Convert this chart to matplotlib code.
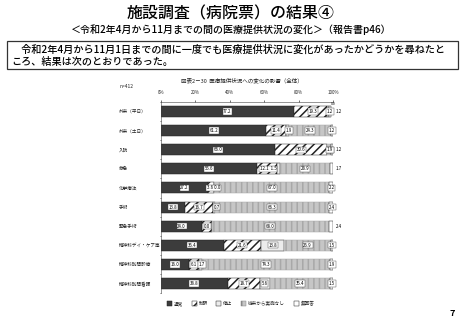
import matplotlib
matplotlib.use("Agg")
import matplotlib.pyplot as plt
import matplotlib.transforms as mtransforms
from matplotlib.patches import Rectangle
import numpy as np

plt.rcParams['font.family'] = ['Noto Sans CJK JP', 'DejaVu Sans']
plt.rcParams['hatch.linewidth'] = 1.1

categories = ["外来（平日）", "外来（土日）", "入院", "救急", "化学療法", "手術",
              "緊急手術", "精神科デイ・ケア等", "精神科訪問診療", "精神科訪問看護"]
series_names = ["通常", "制限", "停止", "従来から実施なし", "無回答"]
normal   = [77.2, 61.2, 66.0, 55.6, 27.2, 13.8, 24.0, 36.4, 16.0, 38.8]
limited  = [19.3, 11.4, 30.6, 12.1, 3.6, 16.7, 5.6, 21.6, 6.1, 18.7]
stopped  = [1.2, 1.9, 0.2, 1.5, 0.0, 0.7, 0.0, 13.8, 1.7, 5.6]
notdone  = [0.0, 24.3, 1.9, 28.9, 67.0, 66.3, 68.0, 26.9, 74.3, 35.4]
noanswer = [1.2, 1.2, 1.2, 1.7, 2.2, 2.4, 2.4, 1.5, 1.9, 1.5]
xticks = [0, 20, 40, 60, 80, 100]
xticklabels = ["0%", "20%", "40%", "60%", "80%", "100%"]

fig = plt.figure(figsize=(4.62, 3.2), dpi=100)

# Header
fig.text(0.5, 1 - 14/320, "施設調査（病院票）の結果④", ha='center', va='center',
         fontsize=11.5, fontweight='medium')
fig.text(0.5, 1 - 30/320, "＜令和2年4月から11月までの間の医療提供状況の変化＞（報告書p46）",
         ha='center', va='center', fontsize=7.2, fontweight='medium')
box = Rectangle((7/462, 1 - 69/320), (458 - 7)/462, 28/320, transform=fig.transFigure,
                fill=False, edgecolor='#333333', linewidth=0.9)
fig.add_artist(box)
fig.text(11/462, 1 - 50/320, "　令和2年4月から11月1日までの間に一度でも医療提供状況に変化があったかどうかを尋ねたと",
         ha='left', va='center', fontsize=7.3, fontweight='medium')
fig.text(11/462, 1 - 62/320, "ころ、結果は次のとおりであった。",
         ha='left', va='center', fontsize=7.3, fontweight='medium')

fig.text(242/462, 1 - 80/320, "図表2－30  医療提供状況への変化の影響（全体）", ha='center', va='center',
         fontsize=4.0, color='#222222')
fig.text(120/462, 1 - 87/320, "n=412", ha='left', va='center', fontsize=3.5, color='#222222')

ax = fig.add_axes([161/462, 1 - 293/320, 172/462, (293 - 102)/320])
n = len(categories)
y = np.arange(n)
data = [normal, limited, stopped, notdone, noanswer]
styles = [
    dict(color='#3c3c3c', hatch=None, edge='#222222'),
    dict(color='white', hatch='////', edge='#222222'),
    dict(color='#ececec', hatch=None, edge='#222222'),
    dict(color='#c6c6c6', hatch='|||', edge='#a8a8a8'),
    dict(color='white', hatch=None, edge='#222222'),
]
left = np.zeros(n)
for vals, st in zip(data, styles):
    v = np.array(vals)
    ax.barh(y, v, left=left, height=0.58, color=st['color'], hatch=st['hatch'],
            edgecolor=st['edge'], linewidth=0.35)
    left = left + v

# value labels
bb = dict(boxstyle='square,pad=0.15', fc='white', ec='#444444', lw=0.3)
fs = 3.2
cum = np.zeros(n)
starts = []
for vals in data:
    starts.append(cum.copy())
    cum = cum + np.array(vals)
noans_outside = [True, False, True, True, False, False, True, False, False, False]
for i in range(n):
    ax.text(starts[0][i] + normal[i] / 2, y[i], f"{normal[i]:.1f}", ha='center', va='center',
            fontsize=fs, bbox=bb)
    if i == 3:
        ax.text(starts[1][i] + limited[i] / 2 + 0.5, y[i], f"{limited[i]:.1f}  {stopped[i]:.1f}",
                ha='center', va='center', fontsize=fs, bbox=bb)
    elif i == 4:
        ax.text(starts[1][i] + limited[i] / 2 + 1.5, y[i], f"{limited[i]:.1f} {stopped[i]:.1f}",
                ha='center', va='center', fontsize=fs, bbox=bb)
    elif i == 6:
        ax.text(starts[1][i] + limited[i] / 2, y[i], f"{stopped[i]:.1f}",
                ha='center', va='center', fontsize=fs, bbox=bb)
    else:
        ax.text(starts[1][i] + limited[i] / 2 + (1.5 if i == 0 else 0), y[i], f"{limited[i]:.1f}",
                ha='center', va='center', fontsize=fs, bbox=bb)
    if i not in (3, 4, 6):
        xs = starts[2][i] + stopped[i] / 2
        if stopped[i] < 3:
            xs = starts[2][i] + 1.8
        ax.text(xs, y[i], f"{stopped[i]:.1f}", ha='center', va='center', fontsize=fs, bbox=bb)
    if i == 0:
        ax.text(100, y[i] - 0.38, f"{notdone[i]:.1f}", ha='center', va='center', fontsize=2.6)
    elif i == 2:
        ax.text(starts[3][i] + 1.5, y[i], f"{notdone[i]:.1f}", ha='center', va='center',
                fontsize=fs, bbox=bb)
    else:
        ax.text(starts[3][i] + notdone[i] / 2, y[i], f"{notdone[i]:.1f}", ha='center', va='center',
                fontsize=fs, bbox=bb)
    if noans_outside[i]:
        ax.text(101.5, y[i], f"{noanswer[i]:.1f}", ha='left', va='center', fontsize=fs)
    else:
        ax.text(99.3, y[i], f"{noanswer[i]:.1f}", ha='center', va='center', fontsize=fs, bbox=bb)

ax.set_xlim(0, 100)
ax.set_ylim(n - 0.5, -0.5)
ax.xaxis.tick_top()
ax.set_xticks(xticks)
ax.set_xticklabels(xticklabels, fontsize=3.2, color='#222222')
ax.tick_params(axis='x', length=1.2, width=0.4, pad=4)
ax.set_yticks(np.arange(n + 1) - 0.5, minor=False)
ax.set_yticklabels([])
ax.tick_params(axis='y', length=1.0, width=0.4, direction='out')
for s in ['right', 'bottom']:
    ax.spines[s].set_visible(False)
for s in ['top', 'left']:
    ax.spines[s].set_linewidth(0.4)
    ax.spines[s].set_color('#444444')

trans = mtransforms.blended_transform_factory(fig.transFigure, ax.transData)
for i, c in enumerate(categories):
    ax.text(119/462, y[i], c, transform=trans, ha='left', va='center', fontsize=3.3,
            color='#222222')

legend_x = [167, 192, 216, 241, 294]
for lx, st, name in zip(legend_x, styles, series_names):
    r = Rectangle((lx/462, 1 - 306/320), 5/462, 5/320, transform=fig.transFigure,
                  facecolor=st['color'], hatch=st['hatch'],
                  edgecolor=st['edge'] if st['hatch'] != '|||' else '#888888', linewidth=0.35)
    fig.add_artist(r)
    fig.text((lx + 7)/462, 1 - 303.5/320, name, ha='left', va='center', fontsize=3.3,
             color='#222222')

fig.text(452/462, 1 - 313/320, "7", ha='center', va='center', fontsize=6.5, fontweight='bold')

fig.savefig("out.png", dpi=100)
